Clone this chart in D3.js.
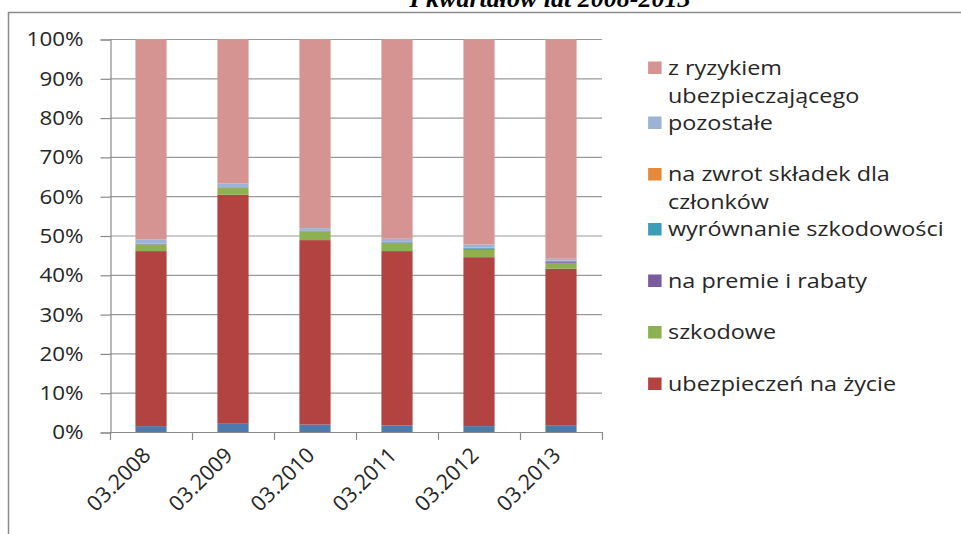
<!DOCTYPE html>
<html><head><meta charset="utf-8">
<script src="https://cdn.jsdelivr.net/npm/d3@7"></script>
<style>
html,body{margin:0;padding:0;background:#fff;}
svg{display:block;}
</style></head>
<body>
<svg id="chart" width="961" height="534"></svg>
<script>
const categories = ["03.2008","03.2009","03.2010","03.2011","03.2012","03.2013"];
const yTicks = [0,10,20,30,40,50,60,70,80,90,100];
const titleText = "I kwartałów lat 2008-2013";

// stacked from bottom to top
const seriesNames = ["pozostałe techniczne","ubezpieczeń na życie","szkodowe","na premie i rabaty","wyrównanie szkodowości","na zwrot składek dla członków","pozostałe","z ryzykiem ubezpieczającego"];
const sBottom   = [1.5, 2.1, 1.9, 1.7, 1.5, 1.6];
const sZycie    = [44.6, 58.3, 47.0, 44.4, 43.1, 40.1];
const sSzkodowe = [1.7, 1.7, 2.1, 2.1, 1.9, 1.5];
const sPremie   = [0.1, 0.1, 0.1, 0.1, 0.3, 0.3];
const sWyrown   = [0.1, 0.1, 0.1, 0.1, 0.2, 0.2];
const sZwrot    = [0.05, 0.05, 0.05, 0.05, 0.05, 0.05];
const sPozost   = [1.0, 0.9, 0.7, 0.8, 0.8, 0.5];
const sRyzyko   = [51.1, 36.8, 48.2, 50.9, 52.4, 56.1];
const seriesColors = ["#4E79AD","#B24341","#8DB050","#7A5C9E","#3C9DB8","#E68A3A","#9CB3D6","#D59391"];

// legend (top to bottom), each a list of lines
const legendNames = [["z ryzykiem","ubezpieczającego"],["pozostałe"],["na zwrot składek dla","członków"],["wyrównanie szkodowości"],["na premie i rabaty"],["szkodowe"],["ubezpieczeń na życie"]];
const legendColors = ["#D59391","#9CB3D6","#E68A3A","#3C9DB8","#7A5C9E","#8DB050","#B24341"];

const allSeries = [sBottom,sZycie,sSzkodowe,sPremie,sWyrown,sZwrot,sPozost,sRyzyko];
const rows = categories.map((c,i)=>{const r={cat:c}; seriesNames.forEach((n,k)=>r[n]=allSeries[k][i]); return r;});
const stacked = d3.stack().keys(seriesNames).offset(d3.stackOffsetExpand)(rows);

const svg = d3.select("#chart");
const font = "'Open Sans', sans-serif";
const txt = "#262626";

// frame
svg.append("rect").attr("x",8.5).attr("y",12.5).attr("width",960).attr("height",530)
  .attr("fill","#fff").attr("stroke","#8a8a8a").attr("stroke-width",1.5);

// title (clipped at top, as in the source picture)
svg.append("text").attr("x",550).attr("y",7).attr("text-anchor","middle")
  .attr("font-family","'Liberation Serif', serif").attr("font-weight","bold").attr("font-style","italic")
  .attr("font-size",26).attr("fill","#000").text(titleText);

const x = d3.scaleBand().domain(categories).range([110,602]).paddingInner(0.62).paddingOuter(0.31);
const y = d3.scaleLinear().domain([0,1]).range([432,39]);

// gridlines
svg.append("g").selectAll("line").data(yTicks).join("line")
  .attr("x1",110).attr("x2",602).attr("y1",d=>y(d/100)+0.5).attr("y2",d=>y(d/100)+0.5)
  .attr("stroke","#9a9a9a").attr("stroke-width",1.2);

// bars
svg.append("g").selectAll("g").data(stacked).join("g").attr("fill",(d,i)=>seriesColors[i])
  .selectAll("rect").data(d=>d).join("rect")
  .attr("x",d=>x(d.data.cat)).attr("width",x.bandwidth())
  .attr("y",d=>y(d[1])).attr("height",d=>Math.max(0,y(d[0])-y(d[1])));

// y axis
const yAxis = d3.axisLeft(y).tickValues(yTicks.map(v=>v/100)).tickFormat(d=>Math.round(d*100)+"%").tickSize(10).tickPadding(17);
const gy = svg.append("g").attr("transform","translate(110.5,0.5)").call(yAxis);
gy.select(".domain").attr("stroke","#8a8a8a").attr("stroke-width",1.2);
gy.selectAll(".tick line").attr("stroke","#8a8a8a").attr("stroke-width",1.2);
gy.selectAll("text").attr("font-family",font).attr("font-size",20).attr("fill",txt)
  .attr("transform","translate(-27,0) scale(1.12,1) translate(27,0)");

// x axis
const xAxis = d3.axisBottom(x).tickSize(0).tickFormat(d=>d);
const gx = svg.append("g").attr("transform","translate(0,432.5)").call(xAxis);
gx.select(".domain").remove();
svg.append("line").attr("x1",110).attr("x2",602).attr("y1",432.5).attr("y2",432.5).attr("stroke","#8a8a8a").attr("stroke-width",1.2);
const bounds = categories.map(c=>x(c)-x.step()*x.paddingInner()/2).concat([602]);
svg.append("g").selectAll("line").data(bounds).join("line")
  .attr("x1",d=>Math.round(d)+0.5).attr("x2",d=>Math.round(d)+0.5).attr("y1",432).attr("y2",440)
  .attr("stroke","#8a8a8a").attr("stroke-width",1.2);
gx.selectAll("text")
  .attr("font-family",font).attr("font-size",21.5).attr("fill",txt)
  .attr("text-anchor","end").attr("dy",0).attr("y",0)
  .attr("transform","translate(1,24) rotate(-45)");

// legend
let ly = 68;
const lg = svg.append("g").attr("transform","translate(668,0) scale(1.17,1) translate(-668,0)");
legendNames.forEach((lines,i)=>{
  lg.append("rect").attr("x",651).attr("y",ly-6.5).attr("width",11.5).attr("height",12.5).attr("fill",legendColors[i]);
  lines.forEach((t,j)=>{
    lg.append("text").attr("x",668).attr("y",ly+j*28).attr("dy","0.35em")
      .attr("font-family",font).attr("font-size",20).attr("fill",txt).text(t);
  });
  ly += (lines.length>1?55:51.5);
});
</script>
</body></html>
